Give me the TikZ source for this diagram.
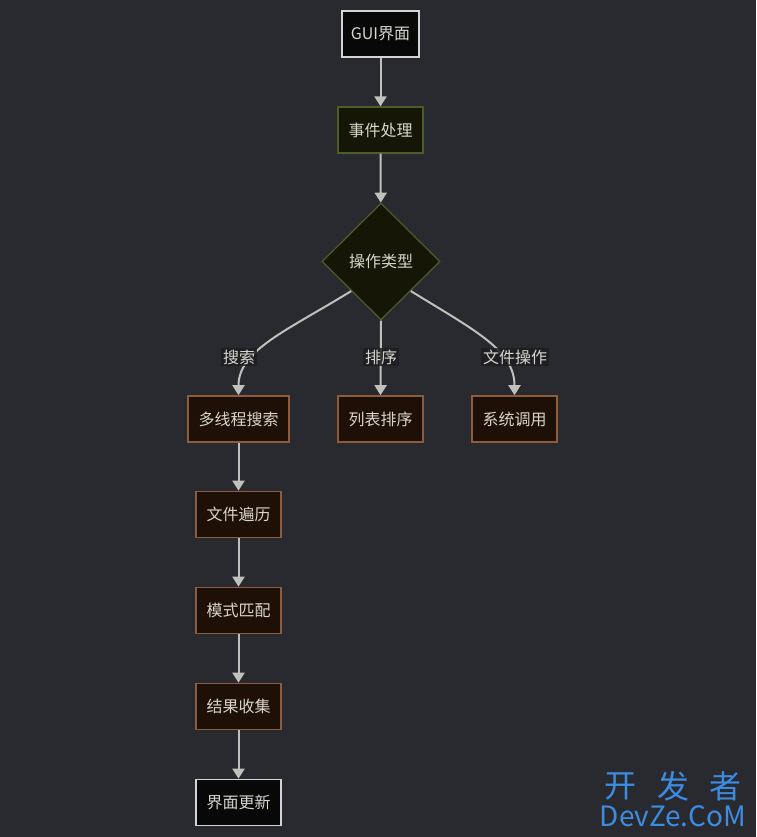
\documentclass[tikz,border=0pt]{standalone}
\usepackage{fontspec}
\setmainfont{Noto Sans CJK SC}
\usetikzlibrary{shapes.geometric,arrows.meta}
\definecolor{bgc}{RGB}{41,42,47}
\definecolor{txtc}{RGB}{214,214,206}
\definecolor{edgec}{RGB}{192,192,188}
\definecolor{guifill}{RGB}{8,8,8}
\definecolor{guidraw}{RGB}{212,212,212}
\definecolor{olfill}{RGB}{22,22,6}
\definecolor{oldraw}{RGB}{78,92,42}
\definecolor{brfill}{RGB}{30,16,6}
\definecolor{brdraw}{RGB}{140,92,60}
\definecolor{lblbg}{RGB}{30,30,34}
\definecolor{wmblue}{RGB}{60,140,225}
\tikzset{
  base/.style={rectangle, inner sep=0pt, minimum height=46pt, text=txtc, font=\fontsize{16}{19}\selectfont},
  guibox/.style={base, fill=guifill, draw=guidraw, line width=1.6pt},
  olbox/.style={base, fill=olfill, draw=oldraw, line width=1.2pt},
  brbox/.style={base, fill=brfill, draw=brdraw, line width=1.6pt},
  decis/.style={diamond, inner sep=0pt, minimum width=118pt, minimum height=117pt, fill=olfill, draw=oldraw, line width=1.2pt, text=txtc, font=\fontsize{16}{19}\selectfont},
  edge/.style={draw=edgec, line width=2pt, -{Triangle[width=12pt,length=10pt]}},
  elabel/.style={fill=lblbg, fill opacity=0.85, text opacity=1, text=txtc, inner sep=2pt, font=\fontsize{16}{19}\selectfont},
  wm/.style={text=wmblue, inner sep=0pt}
}
\begin{document}
\begin{tikzpicture}[x=1pt,y=-1pt]
\fill[bgc] (0,0) rectangle (756,837);
\useasboundingbox (0,0) rectangle (756,837);
\node[guibox, minimum width=77pt] (gui) at (380.5,34) {GUI界面};
\node[olbox, minimum width=85pt] (evt) at (380.5,130) {事件处理};
\node[decis] (op) at (381,261.5) {操作类型};
\node[brbox, minimum width=101pt] (search) at (238.5,419) {多线程搜索};
\node[brbox, minimum width=85pt] (sort) at (380.5,419) {列表排序};
\node[brbox, minimum width=85pt] (sys) at (514.5,419) {系统调用};
\node[brbox, minimum width=85pt] (walk) at (238.5,514.5) {文件遍历};
\node[brbox, minimum width=85pt] (match) at (238.5,610.5) {模式匹配};
\node[brbox, minimum width=85pt] (collect) at (238.5,706.5) {结果收集};
\node[guibox, minimum width=85pt] (update) at (238.5,802.5) {界面更新};
\draw[edge] (gui) -- (evt);
\draw[edge] (evt) -- (op);
\draw[edge] (op.south west) .. controls +(-65,40) and +(0,-45) .. (search.north);
\draw[edge] (op.south) -- (sort.north);
\draw[edge] (op.south east) .. controls +(65,40) and +(0,-45) .. (sys.north);
\draw[edge] (search) -- (walk);
\draw[edge] (walk) -- (match);
\draw[edge] (match) -- (collect);
\draw[edge] (collect) -- (update);
\node[elabel] (l1) at (239,357) {搜索};
\node[elabel] (l2) at (381,357) {排序};
\node[elabel] (l3) at (515,357) {文件操作};
\node[wm, font=\fontsize{32}{34}\selectfont] (w1) at (620,786) {开};
\node[wm, font=\fontsize{32}{34}\selectfont] (w2) at (673,786) {发};
\node[wm, font=\fontsize{32}{34}\selectfont] (w3) at (725,786) {者};
\node[wm, font=\fontsize{28}{30}\selectfont] (w4) at (673,816) {DevZe.CoM};
\end{tikzpicture}
\end{document}
